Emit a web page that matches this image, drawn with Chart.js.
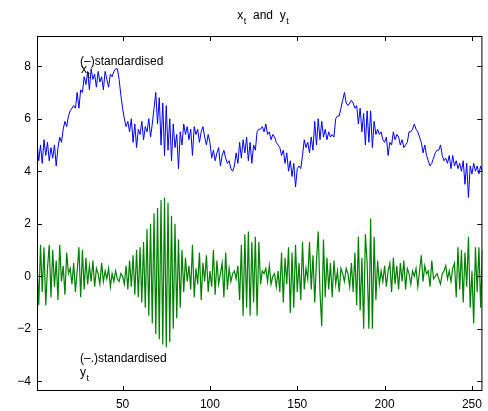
<!DOCTYPE html>
<html>
<head>
<meta charset="utf-8">
<script src="https://cdn.jsdelivr.net/npm/chart.js@4"></script>
<style>
  body { margin: 0; background: #fff; }
  #wrap { width: 488px; height: 411px; }
</style>
</head>
<body>
<div id="wrap"><canvas id="chart" width="488" height="411"></canvas></div>
<script>
// standardised x_t (blue), t = 1..256
const xSeries = [
  5.1, 4.4, 5.0, 4.3, 5.2, 4.6, 5.1, 4.4, 4.9, 4.5, 5.0, 4.2, 4.9, 5.3, 5.1, 5.6,
  5.9, 5.7, 6.1, 6.3, 6.4, 6.5, 6.4, 7.0, 6.4, 7.1, 7.0, 7.6, 7.3, 7.8, 7.1, 7.9,
  7.5, 7.7, 7.2, 7.8, 7.4, 7.6, 7.1, 7.8, 7.5, 7.2, 7.7, 7.6, 7.8, 7.9, 7.9, 7.5,
  6.9, 6.4, 6.0, 5.7, 5.9, 5.5, 6.0, 5.1, 5.8, 4.9, 5.6, 5.4, 5.9, 5.2, 5.7, 5.5,
  6.0, 5.3, 5.8, 6.4, 7.0, 5.8, 6.8, 5.0, 6.6, 4.6, 6.5, 4.8, 6.0, 4.4, 5.8, 4.9,
  5.4, 4.1, 5.5, 5.0, 5.8, 5.4, 5.7, 5.2, 5.6, 4.6, 5.7, 5.4, 5.6, 5.1, 5.5, 5.7,
  5.3, 5.0, 5.4, 5.1, 4.5, 4.8, 4.4, 4.7, 4.9, 4.2, 4.6, 4.8, 4.5, 4.3, 4.4, 4.1,
  4.0, 4.2, 4.7, 4.3, 5.1, 4.5, 5.2, 4.7, 5.3, 4.4, 5.1, 4.3, 5.0, 4.8, 5.5, 5.6,
  5.6, 5.7, 5.5, 5.8, 5.4, 5.5, 5.2, 5.4, 5.3, 5.1, 5.0, 4.9, 4.6, 4.8, 4.3, 4.7,
  4.0, 4.4, 3.8, 4.3, 3.4, 4.1, 4.2, 4.1, 4.6, 5.2, 4.9, 5.1, 4.7, 5.3, 4.8, 5.9,
  5.0, 6.0, 5.2, 5.9, 5.3, 5.6, 5.2, 5.5, 5.3, 5.4, 5.3, 6.0, 6.1, 6.1, 6.4, 6.7,
  7.0, 6.6, 6.5, 6.6, 6.7, 6.6, 6.4, 6.5, 5.8, 6.4, 5.5, 6.2, 5.0, 6.3, 5.1, 6.3,
  4.9, 5.9, 5.4, 5.6, 5.4, 5.5, 5.2, 5.1, 5.3, 4.6, 5.1, 5.0, 5.5, 5.2, 5.4, 5.3,
  5.0, 5.2, 4.9, 5.0, 5.1, 5.5, 5.5, 5.6, 5.8, 5.6, 5.5, 5.3, 5.1, 4.7, 5.0, 4.6,
  4.4, 4.2, 4.3, 4.5, 4.7, 4.8, 4.8, 5.0, 4.6, 4.4, 4.5, 4.3, 4.6, 4.1, 4.6, 4.2,
  4.4, 4.1, 4.3, 4.0, 4.4, 3.5, 4.3, 3.0, 4.2, 3.9, 4.3, 4.0, 4.2, 3.9, 4.2, 4.0
];

// standardised y_t (green)
const ySeries = [
  0.5, -1.1, 1.2, -0.6, 1.1, -1.1, 0.3, 1.2, -0.8, 1.0, -0.4, 0.6, -0.9, 1.2, -0.2, 0.4, -0.7, 0.9, 0.1, 0.3,
  -0.3, 0.5, -0.6, 0.2, 1.1, -0.8, 1.0, -0.5, 0.7, -0.3, 0.4, -0.2, 0.6, -0.4, 0.3, 0.1, -0.3, 0.5, -0.2, 0.2,
  -0.1, 0.3, -0.4, 0.1, -0.2, 0.2, -0.1, -0.2, 0.1, 0.0, -0.3, 0.4, -0.5, 0.6, -0.4, 0.8, -0.7, 1.0, -0.8, 1.1,
  -1.0, 1.3, -1.2, 1.8, -1.5, 2.0, -1.8, 2.4, -2.2, 2.6, -2.4, 2.9, -2.6, 3.0, -2.7, 2.8, -2.5, 2.3, -2.0, 2.0,
  -1.6, 1.4, -1.2, 1.0,
  -0.6, 0.7, -0.2, 0.4, -0.5, 1.2, -0.8, 0.3, -0.3, 0.9, -0.9, 0.5, -0.2, 0.8, -0.6, 0.2,
  -0.4, 1.0, -0.7, 0.6, -0.3, 0.1, 0.5, -0.8, 0.9, -0.5, 0.3, -0.2, 0.1, 0.2, -0.1,
  0.4, -0.9, 1.2, -1.5, 1.6, -1.2, 1.7, -1.5, 1.3, -1.0, 1.5, -1.5, 1.3,
  -0.3, 0.2, 0.1, 0.3, -0.2, 0.4, -0.3, 0.0, 0.1, -0.4, 0.2,
  -0.6, 0.9, -1.0, 0.7, -0.3, 1.1, -1.4, 0.9, -1.2, 1.2, -0.6, 0.5, -0.9, 1.3, -0.5, 0.3, -0.1,
  1.3, -0.5, 0.8, -1.0, 0.6, 1.7, -0.6, -1.9, 1.4, -0.8,
  0.7, -0.5, 0.5, -0.8, 0.6, -0.3, 0.2, -0.6, 0.3, 0.1, -0.2, 0.3, 0.1, -0.4, 0.5, -0.6, 0.9, -1.1,
  1.5, -1.3, 0.7, -2.0, 1.6, 0.5, -2.0, 2.2, -2.0, 1.5, -0.9,
  0.6, -0.3, 0.2, -0.2, 0.4, -0.4, 0.2, 0.5, -0.6, 0.7, -0.3, 0.4, -0.5, 0.5, -0.2,
  0.6, -0.5, 0.3, 0.1, -0.3, 0.2, 0.0, 0.3, -0.4, 0.2, 0.8, -0.2, 0.4, 0.1, 0.2,
  -0.4, 0.6, -0.1, 0.0, 0.1, -0.1, -0.3, 0.1, 0.2, 0.4, -0.1, 0.2, -0.2, 0.3, 0.5,
  -0.8, 1.1, -0.5, 1.0, -1.0, 0.9, -0.4, 1.5, -1.2, 0.2, -1.8, 1.1, -0.6, 1.1, -1.2, 1.0
];

const xTicks = [50, 100, 150, 200, 250];
const yTicks = [-4, -2, 0, 2, 4, 6, 8];
const xRange = [1, 256];
const yRange = [-4.37, 9.15];

const FONT = "'Liberation Sans', Arial, Helvetica, sans-serif";

function toPoints(arr) {
  return arr.map((v, i) => ({ x: i + 1, y: v }));
}

// draws "base" with a subscript, returns end x
function drawSub(ctx, base, sub, x, y) {
  ctx.font = '12px ' + FONT;
  ctx.fillText(base, x, y);
  x += ctx.measureText(base).width;
  ctx.font = '9px ' + FONT;
  ctx.fillText(sub, x + 0.5, y + 5);
  return x + 0.5 + ctx.measureText(sub).width;
}

const framePlugin = {
  id: 'frame',
  afterDraw(chart) {
    const ctx = chart.ctx;
    const a = chart.chartArea;
    const sx = chart.scales.x, sy = chart.scales.y;
    ctx.save();
    ctx.strokeStyle = '#000';
    ctx.lineWidth = 1;
    ctx.strokeRect(a.left + 0.5, a.top + 0.5, a.right - a.left - 1, a.bottom - a.top - 1);

    // inward ticks on all four sides
    ctx.beginPath();
    xTicks.forEach(v => {
      const px = Math.round(sx.getPixelForValue(v)) + 0.5;
      ctx.moveTo(px, a.bottom); ctx.lineTo(px, a.bottom - 5);
      ctx.moveTo(px, a.top); ctx.lineTo(px, a.top + 5);
    });
    yTicks.forEach(v => {
      const py = Math.round(sy.getPixelForValue(v)) + 0.5;
      ctx.moveTo(a.left, py); ctx.lineTo(a.left + 5, py);
      ctx.moveTo(a.right, py); ctx.lineTo(a.right - 5, py);
    });
    ctx.stroke();

    ctx.fillStyle = '#000';
    ctx.textBaseline = 'alphabetic';
    ctx.textAlign = 'left';

    // title
    ctx.font = '12px ' + FONT;
    const parts = ['x', 't', '  and  ', 'y', 't'];
    let w = ctx.measureText('x').width + ctx.measureText('  and  ').width + ctx.measureText('y').width;
    ctx.font = '9px ' + FONT;
    w += 2 * (ctx.measureText('t').width + 0.5);
    let tx = 263 - w / 2;
    tx = drawSub(ctx, parts[0], parts[1], tx, 19);
    ctx.font = '12px ' + FONT;
    ctx.fillText(parts[2], tx, 19);
    tx += ctx.measureText(parts[2]).width;
    drawSub(ctx, parts[3], parts[4], tx, 19);

    // series notes
    ctx.font = '12px ' + FONT;
    ctx.fillText('(\u2013)standardised', 80, 65);
    drawSub(ctx, 'x', 't', 81, 73);
    ctx.font = '12px ' + FONT;
    ctx.fillText('(\u2013.)standardised', 80, 362);
    drawSub(ctx, 'y', 't', 80, 376);

    ctx.restore();
  }
};

new Chart(document.getElementById('chart'), {
  type: 'line',
  data: {
    datasets: [
      { data: toPoints(xSeries), borderColor: '#0000ff', borderWidth: 1, pointRadius: 0, tension: 0 },
      { data: toPoints(ySeries), borderColor: '#008000', borderWidth: 1.2, pointRadius: 0, tension: 0 }
    ]
  },
  options: {
    responsive: false,
    animation: false,
    layout: { padding: { top: 36, right: 2, left: 0, bottom: 0 } },
    plugins: { legend: { display: false }, title: { display: false }, tooltip: { enabled: false } },
    scales: {
      x: {
        type: 'linear',
        min: xRange[0],
        max: xRange[1],
        grid: { display: false, drawTicks: false },
        border: { display: false },
        afterBuildTicks: s => { s.ticks = xTicks.map(v => ({ value: v })); },
        afterFit: s => { s.height = 20; },
        ticks: { padding: 6, color: '#000', font: { family: FONT, size: 12 } }
      },
      y: {
        min: yRange[0],
        max: yRange[1],
        grid: { display: false, drawTicks: false },
        border: { display: false },
        afterBuildTicks: s => { s.ticks = yTicks.map(v => ({ value: v })); },
        afterFit: s => { s.width = 37; },
        ticks: {
          padding: 6, color: '#000', font: { family: FONT, size: 12 },
          callback: v => String(v).replace('-', '\u2212')
        }
      }
    }
  },
  plugins: [framePlugin]
});
</script>
</body>
</html>
